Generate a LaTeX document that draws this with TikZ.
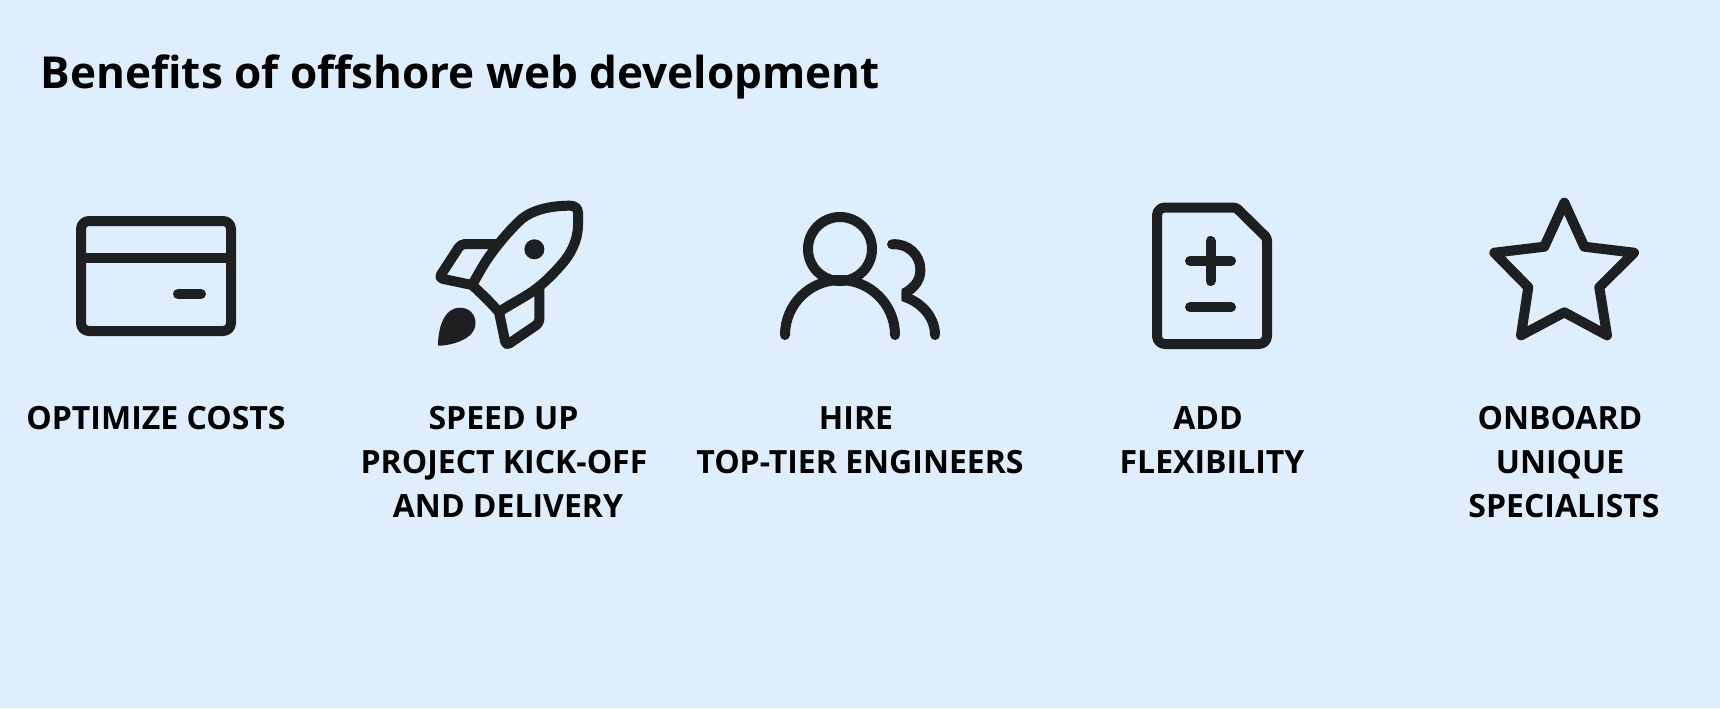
\documentclass[tikz,border=0pt]{standalone}
\usepackage{fontspec}
\setmainfont{Open Sans}
\definecolor{paleblue}{HTML}{DEEEFC}
\definecolor{iconink}{HTML}{1E1F21}
\tikzset{
  iconline/.style={draw=iconink, line width=7.5pt, line cap=round, line join=round},
  headline/.style={anchor=base west, inner sep=0pt, font=\fontsize{33.05}{40}\selectfont\bfseries},
  caption/.style={anchor=base, inner sep=0pt, font=\fontsize{24}{30}\selectfont\bfseries},
}
\begin{document}
\begin{tikzpicture}[x=.75pt, y=-.75pt]
 \fill[paleblue](0,0)rectangle(1720,708);
 \useasboundingbox(0,0)rectangle(1720,708);
 \node[headline](title)at(40.5,88){Benefits of offshore web development};
 \foreach \x/\y/\t/\n in {156/429/OPTIMIZE COSTS/costs,
     503.5/429/SPEED UP/speed, 504/473/PROJECT KICK-OFF/project, 508/517/AND DELIVERY/delivery,
     856/429/HIRE/hire, 860/473/TOP-TIER ENGINEERS/engineers,
     1208/429/ADD/add, 1212/473/FLEXIBILITY/flex,
     1560/429/ONBOARD/onboard, 1560/473/UNIQUE/unique, 1564/517/SPECIALISTS/special}
 {
     \node[caption](\n)at(\x,\y){\t};
 }
 % card
 \draw[iconline, rounded corners=6pt](81,221)rectangle(231,331);
 \draw[iconline, line cap=butt](81,257.5)--(231,257.5);
 \draw[iconline](178,294)--(201,294);
 % rocket
 \draw[iconline](472,285) .. controls (478,275) and (484,263) .. (491,254)
   .. controls (498,244) and (509,231) .. (518.4,222)
   .. controls (530,210) and (550,205.7) .. (570,205.7)
   .. controls (575,205.7) and (578,208) .. (578,213) -- (578,225)
   .. controls (578,240) and (571,254) .. (561,265)
   .. controls (555,272) and (548,279) .. (541,285)
   .. controls (528,296) and (512,303) .. (499,312)
   .. controls (490,302) and (482,294) .. (472,285) -- cycle;
 \draw[iconline, rounded corners=3pt](497,244)--(461,244)--(438.8,278)--(472,285);
 \draw[iconline, rounded corners=3pt](539.4,288)--(539.4,323)--(506,345.7)--(499,312);
 \fill[iconink](534.4,249.3)circle(10);
 \fill[iconink](438,345.7) .. controls (438,330) and (443,307.7) .. (460,307.7)
   .. controls (470,307.7) and (475.5,315) .. (475.5,323)
   .. controls (475.5,340) and (450,345.7) .. (438,345.7) -- cycle;
 % people
 \draw[iconline](840,249)circle(32);
 \draw[iconline](785,335)arc[start angle=180, end angle=360, radius=55];
 \draw[iconline](892,244.3) .. controls (908,243) and (920.4,255) .. (920.4,270);
 \begin{scope}
   \clip(901.5,265)rectangle(945,345);
   \draw[iconline](920.4,270) .. controls (920.4,282) and (912,291) .. (898,296);
   \draw[iconline](895,294.5) .. controls (918,298) and (935,315) .. (935,335);
 \end{scope}
 % sheet
 \draw[iconline, rounded corners=6pt](1157,280)--(1157,207.5)[rounded corners=2pt]--(1236,207.5)--(1267,238)
   [rounded corners=6pt]--(1267,344)--(1157,344)--cycle;
 \draw[iconline](1190,260.7)--(1231,260.7);
 \draw[iconline](1210.5,241)--(1210.5,281);
 \draw[iconline](1190,307.3)--(1231,307.3);
 % star
 \draw[iconline](1564.3,202.7)--(1584.3,246.7)--(1634,252.7)--(1599.3,287.3)--(1607,335.3)
   --(1564.3,312.3)--(1521,335.3)--(1528.3,287.3)--(1494.3,252.7)--(1544.3,246.7)--cycle;
\end{tikzpicture}
\end{document}
